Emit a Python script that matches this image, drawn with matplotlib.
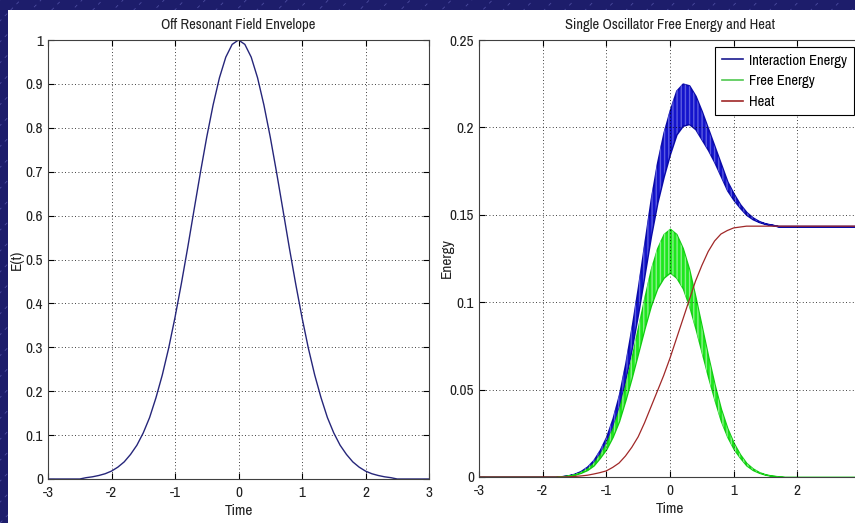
import numpy as np
import matplotlib
matplotlib.use('Agg')
import matplotlib.pyplot as plt
from matplotlib import font_manager
from matplotlib.lines import Line2D
from matplotlib.patches import Rectangle

# time grid, -3 .. 3 in 0.1 steps (61 samples)
time = np.round(np.linspace(-3, 3, 61), 2)

# left panel: field envelope E(t)
envelope = [0, 0, 0, 0, 0, 0,
            0.003, 0.005, 0.008, 0.012, 0.018, 0.027, 0.039, 0.056, 0.077, 0.105,
            0.14, 0.185, 0.237, 0.298, 0.368, 0.445, 0.527, 0.613, 0.698, 0.779,
            0.852, 0.914, 0.961, 0.990,
            1.0,
            0.990, 0.961, 0.914, 0.852, 0.779, 0.698, 0.613, 0.527, 0.445, 0.368,
            0.298, 0.237, 0.185, 0.14, 0.105, 0.077, 0.056, 0.039, 0.027, 0.018,
            0.012, 0.008, 0.005, 0.003,
            0, 0, 0, 0, 0, 0]

# right panel: oscillating curves given as upper / lower envelopes
free_upper = [0] * 13 + [
    0.0004, 0.0008, 0.0015, 0.0028, 0.0049, 0.008, 0.013, 0.0195, 0.028, 0.039,
    0.053, 0.069, 0.086, 0.103, 0.119, 0.131, 0.139,
    0.142,
    0.139, 0.131, 0.119, 0.103, 0.086, 0.069, 0.053, 0.039, 0.028, 0.0195,
    0.013, 0.008, 0.0049, 0.0028, 0.0015, 0.0008, 0.0004] + [0] * 13
free_lower = [0] * 13 + [
    0.0003, 0.0007, 0.0013, 0.0024, 0.004, 0.0066, 0.011, 0.016, 0.023, 0.032,
    0.044, 0.057, 0.071, 0.085, 0.098, 0.108, 0.114,
    0.117,
    0.114, 0.108, 0.098, 0.085, 0.071, 0.057, 0.044, 0.032, 0.023, 0.016,
    0.011, 0.0066, 0.004, 0.0024, 0.0013, 0.0007, 0.0003] + [0] * 13

heat = [0] * 14 + [
    0.0001, 0.0003, 0.0006, 0.001, 0.0017, 0.0025, 0.0035, 0.0055, 0.008, 0.012,
    0.017, 0.023, 0.031, 0.040, 0.049, 0.058, 0.068, 0.079, 0.090, 0.101,
    0.112, 0.121, 0.129, 0.135, 0.139, 0.141, 0.1425, 0.143, 0.1435] + [0.1435] * 18

inter_upper = [0] * 13 + [
    0.0004, 0.0009, 0.0018, 0.0034, 0.0059, 0.0097, 0.0155, 0.023, 0.0335, 0.047,
    0.065, 0.086, 0.109, 0.134, 0.159, 0.180, 0.197, 0.210, 0.221, 0.225,
    0.224, 0.218, 0.209, 0.199, 0.189, 0.179, 0.169, 0.162, 0.156, 0.1515,
    0.1484, 0.1463, 0.145, 0.1443] + [0.1435] * 14
inter_lower = [0] * 13 + [
    0.0003, 0.0008, 0.0016, 0.0030, 0.0050, 0.0083, 0.0135, 0.0195, 0.0285, 0.040,
    0.056, 0.074, 0.094, 0.116, 0.138, 0.157, 0.172, 0.185, 0.196, 0.201,
    0.202, 0.199, 0.193, 0.187, 0.180, 0.172, 0.164, 0.1585, 0.154, 0.150,
    0.1475, 0.1459, 0.1448, 0.1442] + [0.1435] * 14

series_names = ['Interaction Energy', 'Free Energy', 'Heat']

# MATLAB used a condensed sans here; take a narrow face if one is installed
narrow = sorted({f.name for f in font_manager.fontManager.ttflist
                 if 'Narrow' in f.name or 'Condensed' in f.name})
family = narrow[0] if narrow else 'Liberation Sans'
plt.rcParams['font.family'] = [family, 'DejaVu Sans']
fs = 11 if narrow else 9.5
ink = '#202020'

fig = plt.figure(figsize=(8.55, 5.23), dpi=100)
fig.patch.set_facecolor('#1d1d6b')

# slide background: faint diagonal strokes, then the white plot area
for x0 in np.arange(-0.6, 1.05, 0.024):
    fig.add_artist(Line2D([x0, x0 + 0.6], [0, 1], transform=fig.transFigure,
                          color='#4c4ca0', lw=0.6, ls=(0, (4, 6)), zorder=-3))
fig.add_artist(Rectangle((8 / 855, 0), 1, 1 - 10 / 523, transform=fig.transFigure,
                         facecolor='white', edgecolor='none', zorder=-2))


def matlab_axes(ax, yticks, xlabels):
    ax.set_facecolor('white')
    ax.grid(True, color='black', ls=(0, (1, 3)), lw=0.6)
    ax.tick_params(direction='in', length=4, top=True, right=True, labelsize=fs,
                   labelcolor=ink)
    ax.tick_params(axis='x', pad=5)
    ax.set_xlim(-3, 3)
    ax.set_xticks([-3, -2, -1, 0, 1, 2, 3])
    ax.set_xticklabels(xlabels)
    ax.set_yticks(yticks)
    for s in ax.spines.values():
        s.set_color('#404040')
        s.set_linewidth(0.8)
    ax.set_xlabel('Time', fontsize=fs, labelpad=3, color=ink)


ax1 = fig.add_axes([48 / 855, 1 - 479 / 523, 381 / 855, 439 / 523])
ax1.plot(time, envelope, color='#26267a', lw=1)
ax1.set_ylim(0, 1)
matlab_axes(ax1, np.round(np.arange(0, 1.01, 0.1), 1),
            ['-3', '-2', '-1', '0', '1', '2', '3'])
ax1.set_yticklabels(['0'] + ['%.1f' % v for v in np.arange(0.1, 0.95, 0.1)] + ['1'])
ax1.set_ylabel('E(t)', fontsize=fs, color=ink)
ax1.yaxis.set_label_coords(-24 / 381, 0.5)
ax1.set_title('Off Resonant Field Envelope', fontsize=10.5, pad=8, color=ink)

# the right panel runs past the slide edge, so its last tick label is not seen
ax2 = fig.add_axes([479 / 855, 1 - 477 / 523, 382 / 855, 437 / 523])
ax2.fill_between(time, inter_lower, inter_upper, facecolor='#1414cc',
                 edgecolor='#0a0aa8', lw=1.2)
ax2.fill_between(time, inter_lower, inter_upper, facecolor='none',
                 edgecolor='#5a5ae0', lw=0, hatch='||||')
ax2.fill_between(time, free_lower, free_upper, facecolor='#1ee81e',
                 edgecolor='#12cc12', lw=1.0)
ax2.fill_between(time, free_lower, free_upper, facecolor='none',
                 edgecolor='#8af08a', lw=0, hatch='||||')
ax2.plot(time, heat, color='#a02828', lw=0.9)
ax2.set_ylim(0, 0.25)
matlab_axes(ax2, [0, 0.05, 0.1, 0.15, 0.2, 0.25],
            ['-3', '-2', '-1', '0', '1', '2', ''])
ax2.set_yticklabels(['0', '0.05', '0.1', '0.15', '0.2', '0.25'])
ax2.set_ylabel('Energy', fontsize=fs, color=ink)
ax2.yaxis.set_label_coords(-25 / 382, 0.5)
ax2.set_title('Single Oscillator Free Energy and Heat', fontsize=10.5, pad=8,
              color=ink)

handles = [Line2D([], [], color='#1a1a90', lw=1.2),
           Line2D([], [], color='#50c850', lw=1.2),
           Line2D([], [], color='#a02828', lw=1.2)]
leg = ax2.legend(handles, series_names,
                 loc='upper right', bbox_to_anchor=(1 - 7 / 382, 1 - 7 / 437),
                 borderaxespad=0, fontsize=10.5, frameon=True, fancybox=False,
                 framealpha=1, handlelength=1.45, borderpad=0.45,
                 labelspacing=0.45, handletextpad=0.45)
leg.get_frame().set_edgecolor('black')
leg.get_frame().set_linewidth(0.8)

fig.savefig('out.png', dpi=100, facecolor=fig.get_facecolor())
